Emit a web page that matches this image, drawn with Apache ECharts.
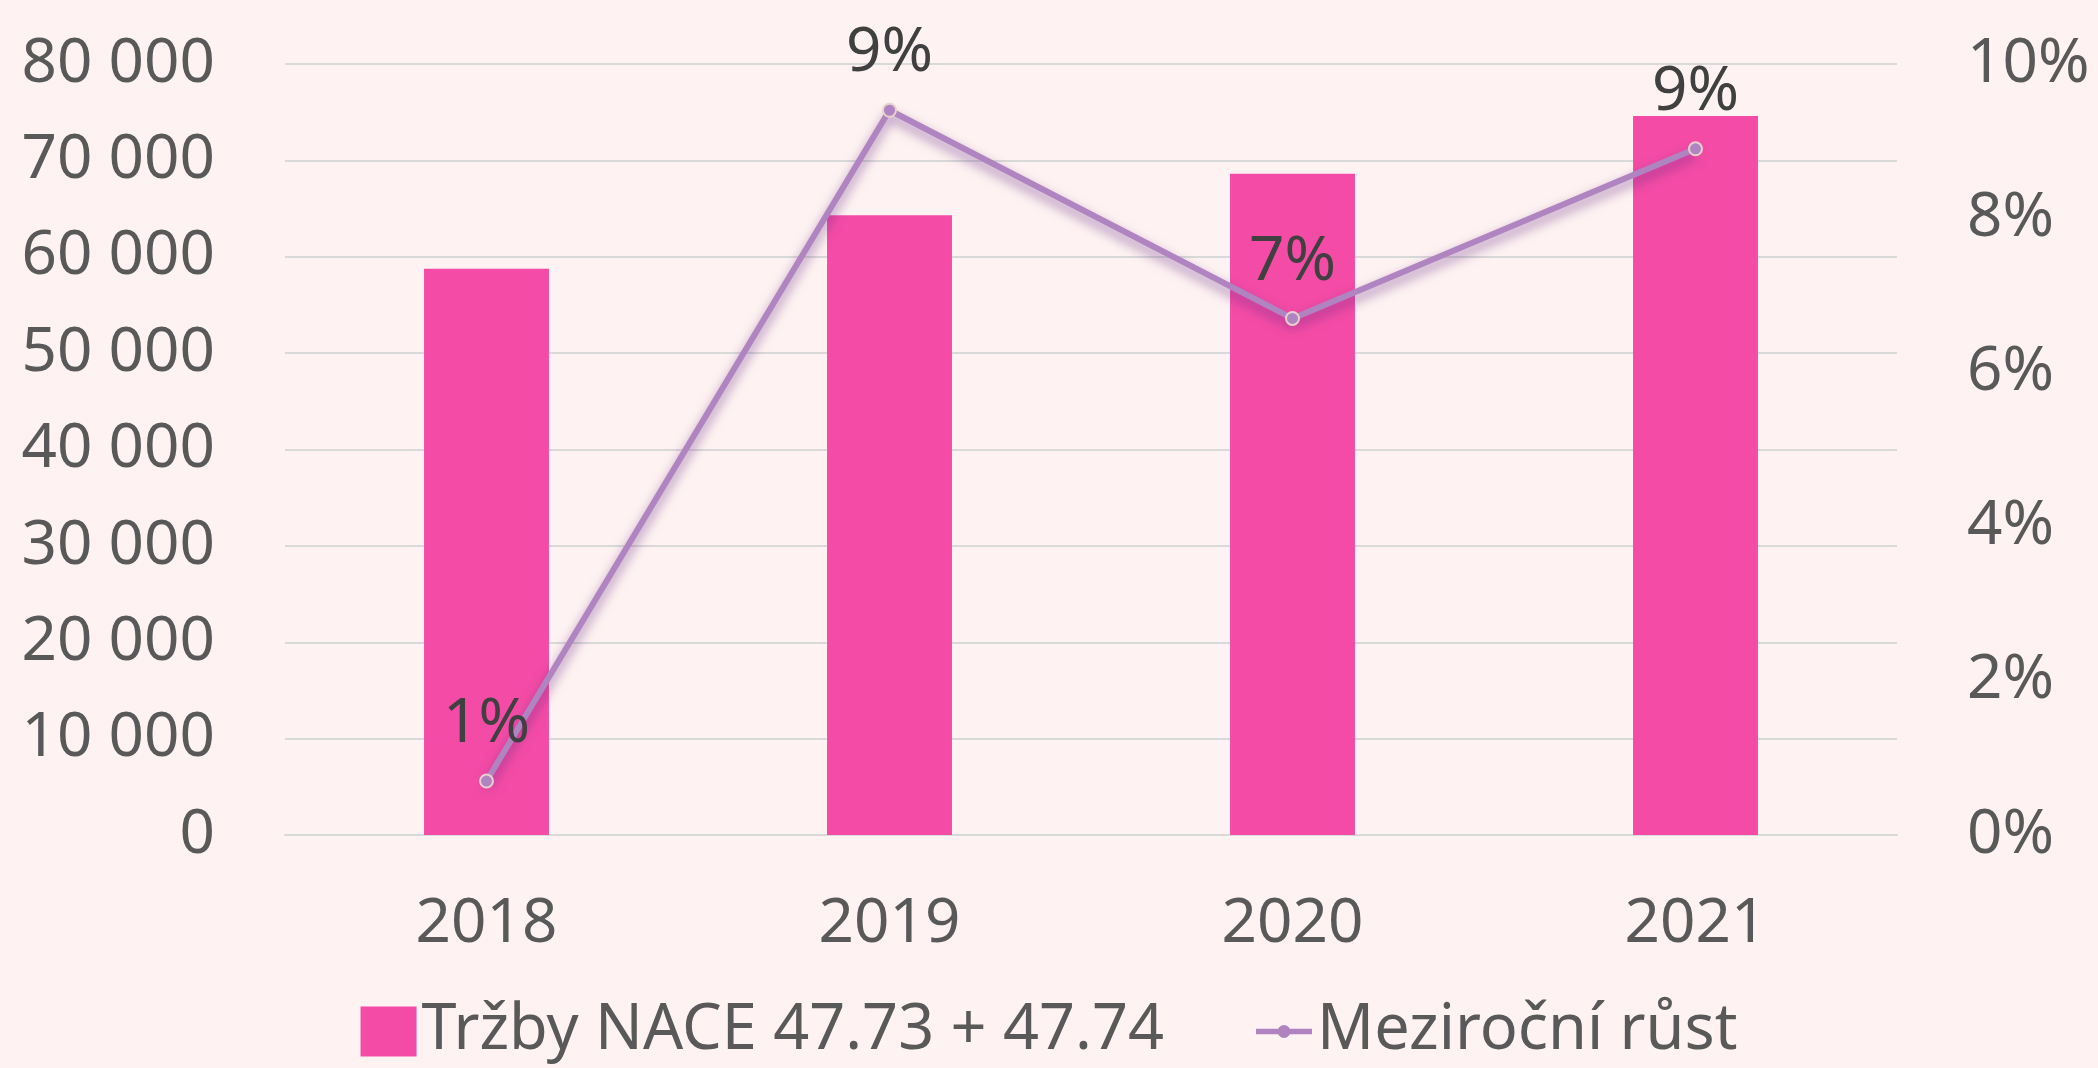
<!DOCTYPE html>
<html>
<head>
<meta charset="utf-8">
<script src="https://cdn.jsdelivr.net/npm/echarts@6/dist/echarts.min.js"></script>
<style>
  html, body { margin: 0; padding: 0; background: #FEF3F2; }
  #chart { width: 2098px; height: 1068px; }
</style>
</head>
<body>
<div id="chart"></div>
<script>
const years = ["2018", "2019", "2020", "2021"];
const salesName = "Tržby NACE 47.73 + 47.74";
const growthName = "Meziroční růst";
const sales = [58750, 64300, 68600, 74600];
const growth = [0.7, 9.4, 6.7, 8.9];
const growthLabels = ["1%", "9%", "7%", "9%"];

const font = "Noto Sans";
const axisColor = "#595959";
const lineColor = "#B084C0";

// thick short line with a dot in the middle, for the legend
const lineIcon = "path://M0,5L60,5L60,11L0,11Z M30,1A7,7 0 1 1 29.99,1Z";

const chart = echarts.init(document.getElementById("chart"));

chart.setOption({
  backgroundColor: "#FEF3F2",
  animation: false,
  textStyle: { fontFamily: font },
  grid: { left: 285, right: 201, top: 64, bottom: 233 },
  legend: {
    bottom: 0,
    left: "center",
    itemWidth: 56,
    itemHeight: 50,
    itemGap: 92,
    textStyle: { fontSize: 63, color: axisColor, fontFamily: font },
    data: [
      { name: salesName, icon: "rect", itemStyle: { color: "#F44CA6" } },
      { name: growthName, icon: lineIcon, itemStyle: { color: lineColor, borderWidth: 0 } }
    ]
  },
  xAxis: {
    type: "category",
    data: years,
    axisLine: { show: true, lineStyle: { color: "#D9D9D9", width: 2 } },
    axisTick: { show: false },
    axisLabel: { fontSize: 62, color: axisColor, margin: 58 }
  },
  yAxis: [
    {
      type: "value",
      min: 0,
      max: 80000,
      interval: 10000,
      axisLine: { show: false },
      axisTick: { show: false },
      splitLine: { lineStyle: { color: "#D9D9D9", width: 2 } },
      axisLabel: {
        fontSize: 62,
        color: axisColor,
        margin: 70,
        formatter: v => v === 0 ? "0" : String(v).replace(/\B(?=(\d{3})+(?!\d))/g, " ")
      }
    },
    {
      type: "value",
      min: 0,
      max: 10,
      interval: 2,
      axisLine: { show: false },
      axisTick: { show: false },
      splitLine: { show: false },
      axisLabel: {
        fontSize: 62,
        color: axisColor,
        margin: 70,
        formatter: v => v + "%"
      }
    }
  ],
  series: [
    {
      name: salesName,
      type: "bar",
      data: sales,
      barWidth: "31%",
      itemStyle: { color: "#F44CA6" }
    },
    {
      name: growthName,
      type: "line",
      yAxisIndex: 1,
      data: growth,
      symbol: "circle",
      symbolSize: 13,
      lineStyle: {
        color: lineColor,
        width: 6,
        shadowColor: "rgba(100, 40, 130, 0.6)",
        shadowBlur: 12,
        shadowOffsetY: 6
      },
      itemStyle: {
        color: lineColor,
        borderColor: "#E8D0CC",
        borderWidth: 2
      },
      label: {
        show: true,
        position: "top",
        distance: 18,
        fontSize: 62,
        color: "#404040",
        formatter: p => growthLabels[p.dataIndex]
      },
      z: 5
    }
  ]
});
</script>
</body>
</html>
